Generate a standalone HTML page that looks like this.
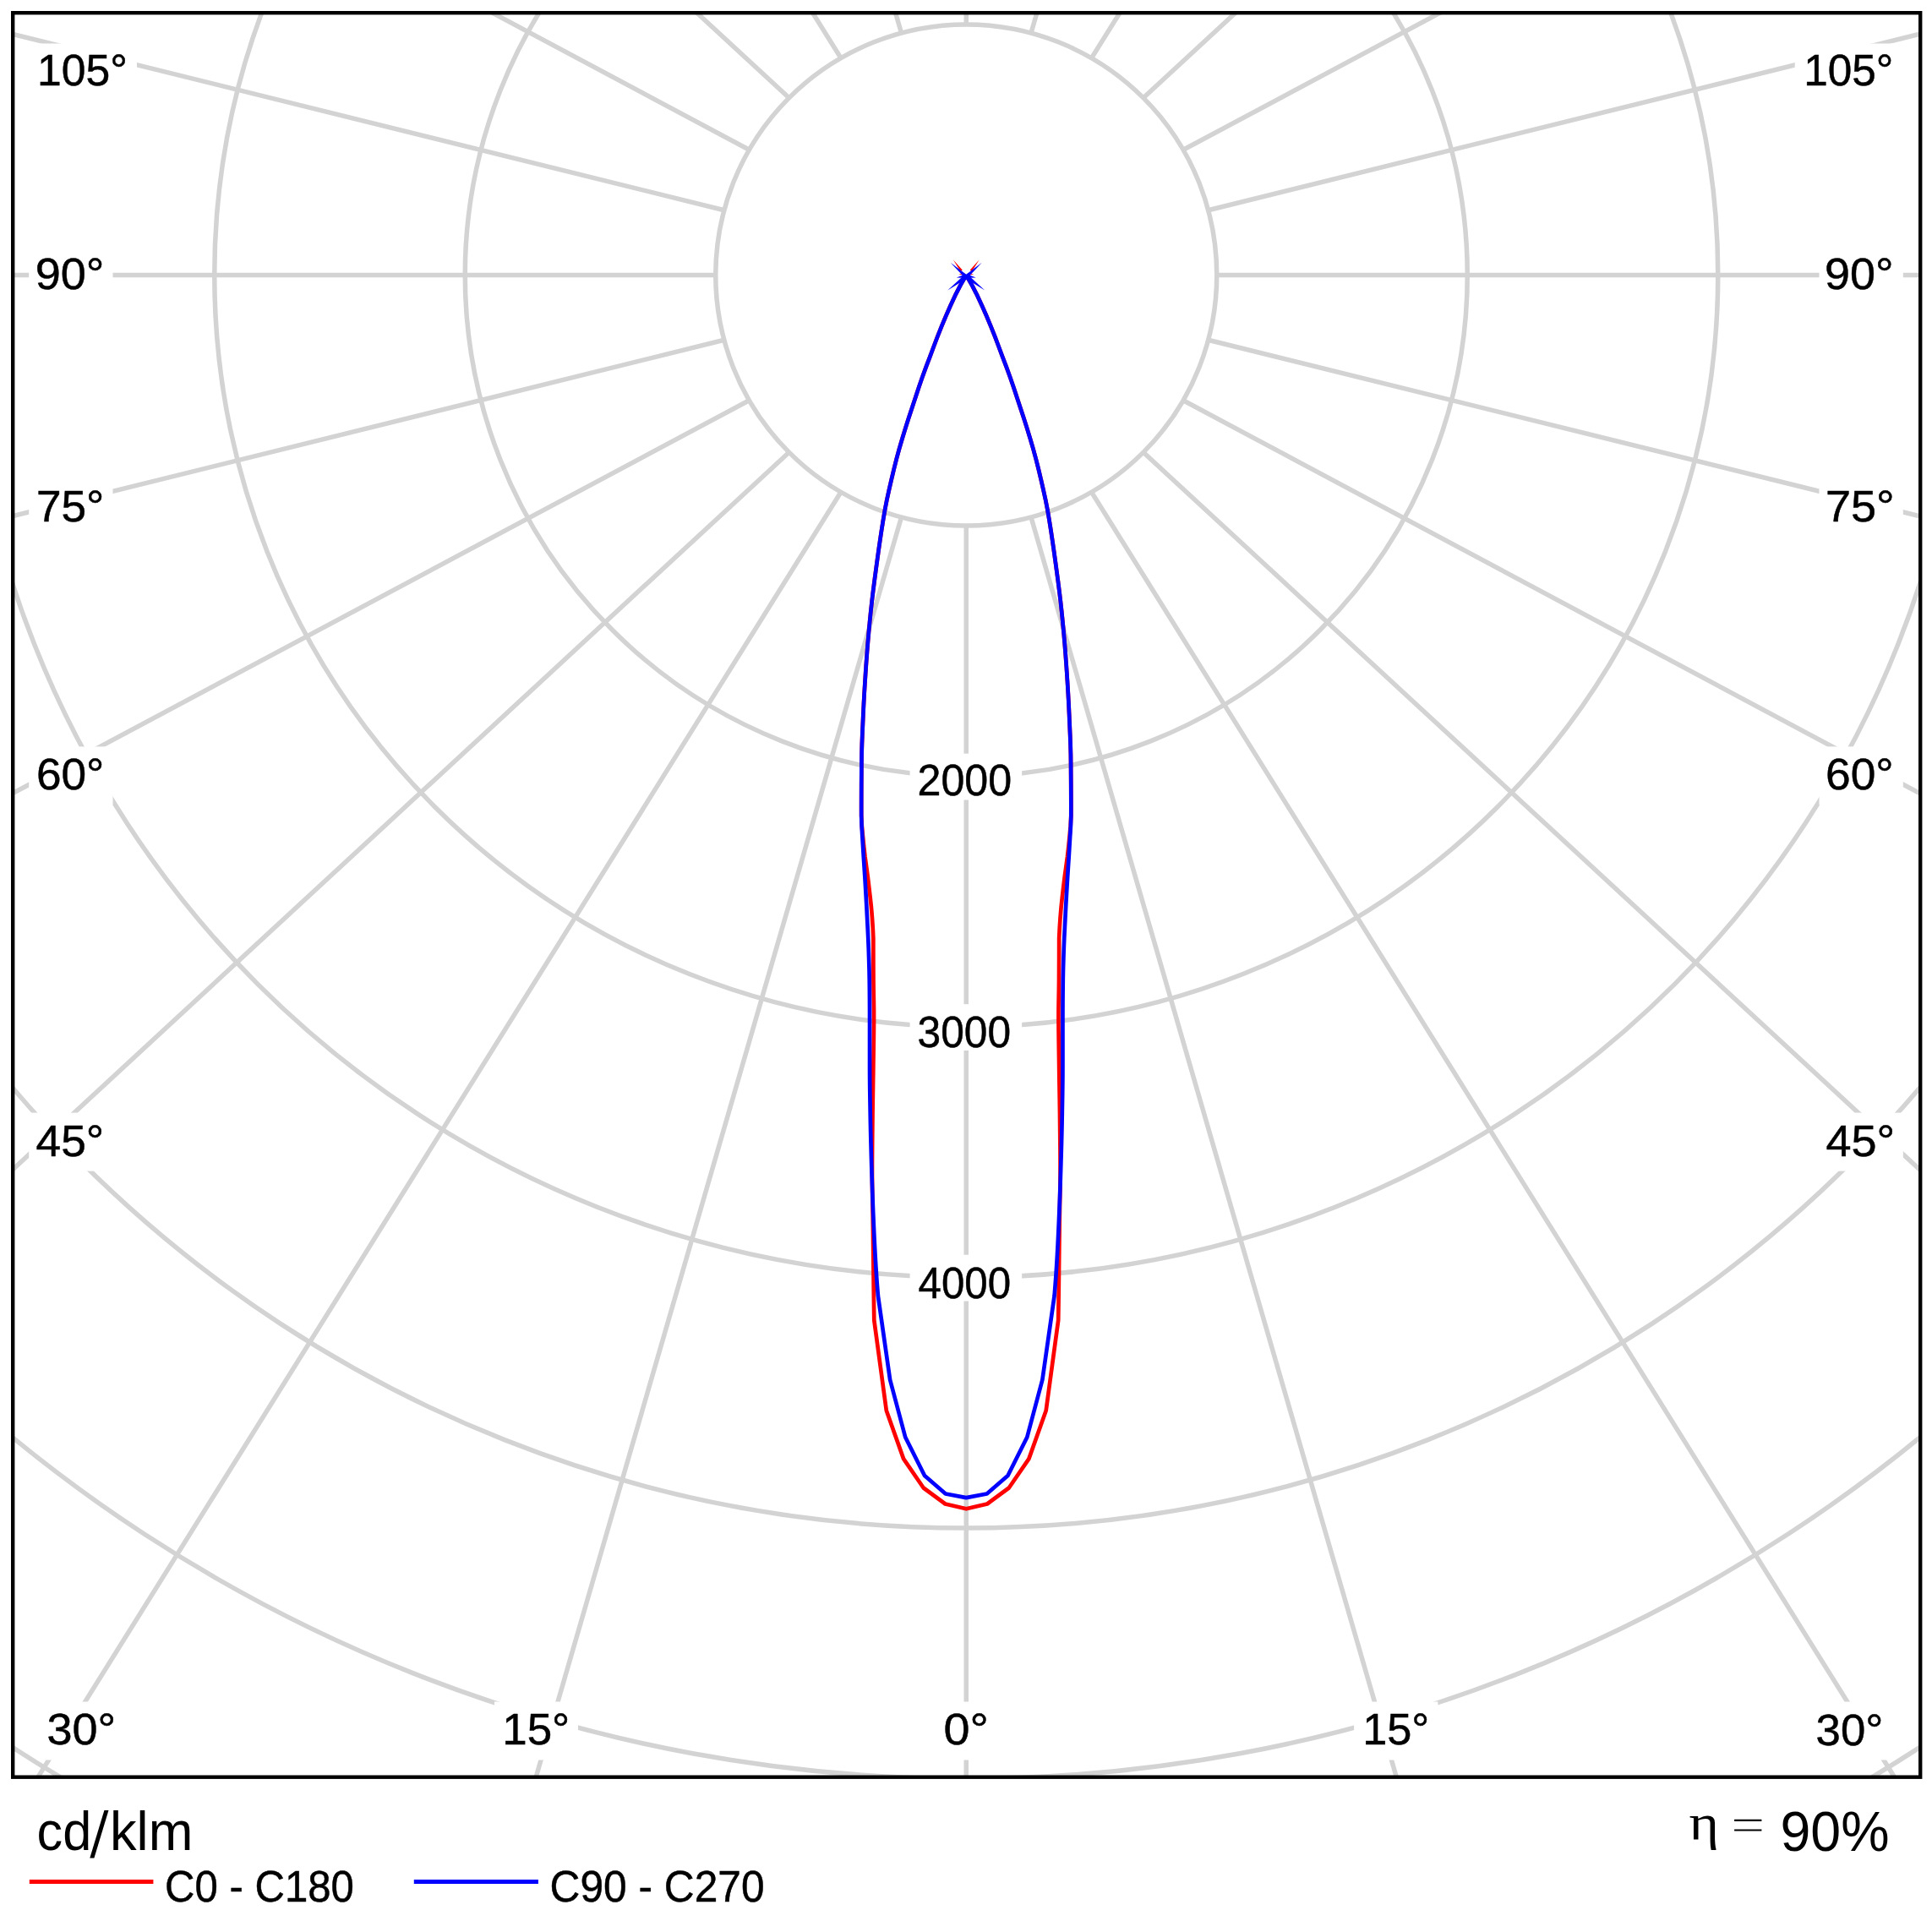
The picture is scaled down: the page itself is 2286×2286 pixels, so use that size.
<!DOCTYPE html>
<html><head><meta charset="utf-8"><title>Polar</title>
<style>html,body{margin:0;padding:0;background:#fff;overflow:hidden;width:2286px;height:2286px}svg{display:block}text{font-family:"Liberation Sans",sans-serif;fill:#000;stroke:#000;stroke-width:0.5px}.s{font-family:"Liberation Serif",serif;stroke:none}.n{stroke:none}</style></head><body>
<svg width="2286" height="2286" viewBox="0 0 2286 2286">
<rect width="2286" height="2286" fill="#fff"/>
<defs><clipPath id="c"><rect x="16.4" y="16.4" width="2254.6" height="2085.1"/></clipPath></defs>
<g clip-path="url(#c)" fill="none" stroke="#d3d3d3" stroke-width="5.5">
<circle cx="1143.25" cy="325.5" r="296.5"/>
<circle cx="1143.25" cy="325.5" r="593"/>
<circle cx="1143.25" cy="325.5" r="889.5"/>
<circle cx="1143.25" cy="325.5" r="1186"/>
<circle cx="1143.25" cy="325.5" r="1482.5"/>
<circle cx="1143.25" cy="325.5" r="1779"/>
<circle cx="1143.25" cy="325.5" r="2075.5"/>
<path d="M1143.25 622L1143.25 3622M1066.51 611.9L290.05 3289.44M1219.99 611.9L1996.45 3289.44M995 582.28L-505 2982.9M1291.5 582.28L2791.5 2982.9M933.59 535.16L-1187.73 2495.26M1352.91 535.16L3474.23 2495.26M886.47 473.75L-1711.6 1859.75M1400.03 473.75L3998.1 1859.75M856.85 402.24L-2040.92 1119.69M1429.65 402.24L4327.42 1119.69M846.75 325.5L-2153.25 325.5M1439.75 325.5L4439.75 325.5M856.85 248.76L-2040.92 -468.69M1429.65 248.76L4327.42 -468.69M886.47 177.25L-1711.6 -1208.75M1400.03 177.25L3998.1 -1208.75M933.59 115.84L-1187.73 -1844.26M1352.91 115.84L3474.23 -1844.26M995 68.72L-505 -2331.9M1291.5 68.72L2791.5 -2331.9M1066.51 39.1L290.05 -2638.44M1219.99 39.1L1996.45 -2638.44M1143.25 29L1143.25 -2971"/>
</g>
<g fill="#fff"><rect x="34.2" y="51.5" width="127.8" height="69"/><rect x="2123.7" y="51.5" width="128.1" height="69"/><rect x="34.2" y="291" width="99.3" height="69"/><rect x="2152.5" y="291" width="99.3" height="69"/><rect x="34.2" y="565.75" width="99.3" height="69"/><rect x="2152.5" y="565.75" width="99.3" height="69"/><rect x="34.2" y="883.4" width="99.3" height="69"/><rect x="2152.5" y="883.4" width="99.3" height="69"/><rect x="34.2" y="1316.6" width="99.3" height="69"/><rect x="2152.5" y="1316.6" width="99.3" height="69"/><rect x="45.6" y="2013.5" width="99.4" height="69"/><rect x="2139" y="2013.5" width="99.3" height="69"/><rect x="585" y="2013.5" width="99" height="69"/><rect x="1602.1" y="2013.5" width="99.3" height="69"/><rect x="1106.2" y="2013.5" width="71.1" height="69"/><rect x="1076.6" y="891.7" width="132.55" height="54.8"/><rect x="1076.6" y="1188.2" width="132.55" height="54.8"/><rect x="1076.6" y="1484.7" width="132.55" height="54.8"/></g>
<text id="L105" x="44.1" y="101" font-size="52.5" textLength="106.83" lengthAdjust="spacingAndGlyphs">105°</text>
<text id="L90" x="41.7" y="342" font-size="52.5" textLength="81.75" lengthAdjust="spacingAndGlyphs">90°</text>
<text id="L75" x="42.9" y="616.8" font-size="52.5" textLength="80.45" lengthAdjust="spacingAndGlyphs">75°</text>
<text id="L60" x="42.9" y="934.4" font-size="52.5" textLength="80.45" lengthAdjust="spacingAndGlyphs">60°</text>
<text id="L45" x="42.5" y="1367.7" font-size="52.5" textLength="80.62" lengthAdjust="spacingAndGlyphs">45°</text>
<text id="L30" x="55.4" y="2063.9" font-size="52.5" textLength="81.73" lengthAdjust="spacingAndGlyphs">30°</text>
<text id="L15" x="594.3" y="2063.9" font-size="52.5" textLength="79.99" lengthAdjust="spacingAndGlyphs">15°</text>
<text id="Z0" x="1116.4" y="2063.9" font-size="52.5" textLength="53.35" lengthAdjust="spacingAndGlyphs">0°</text>
<text id="R15" x="1612.2" y="2063.9" font-size="52.5" textLength="79.09" lengthAdjust="spacingAndGlyphs">15°</text>
<text id="R30" x="2148.6" y="2064.9" font-size="52.5" textLength="79.8" lengthAdjust="spacingAndGlyphs">30°</text>
<text id="R45" x="2160.4" y="1367.7" font-size="52.5" textLength="81.71" lengthAdjust="spacingAndGlyphs">45°</text>
<text id="R60" x="2160" y="934.4" font-size="52.5" textLength="80.63" lengthAdjust="spacingAndGlyphs">60°</text>
<text id="R75" x="2159.9" y="616.8" font-size="52.5" textLength="81.75" lengthAdjust="spacingAndGlyphs">75°</text>
<text id="R90" x="2159" y="342" font-size="52.5" textLength="81.51" lengthAdjust="spacingAndGlyphs">90°</text>
<text id="R105" x="2134.2" y="101" font-size="52.5" textLength="106.15" lengthAdjust="spacingAndGlyphs">105°</text>
<text id="N2" x="1085.5" y="941" font-size="52.5" textLength="111.64" lengthAdjust="spacingAndGlyphs">2000</text>
<text id="N3" x="1085.5" y="1239.1" font-size="52.5" textLength="110.58" lengthAdjust="spacingAndGlyphs">3000</text>
<text id="N4" x="1086.5" y="1535.6" font-size="52.5" textLength="109.63" lengthAdjust="spacingAndGlyphs">4000</text>
<text id="CD" x="43.5" y="2188.6" font-size="65" textLength="64.8" lengthAdjust="spacingAndGlyphs" class="n">cd</text>
<text id="KLM" x="130" y="2188.6" font-size="65" textLength="98.3" lengthAdjust="spacingAndGlyphs" class="n">klm</text>
<path d="M123.4 2142.1H128.5L111.4 2198.5H106.3Z" fill="#000"/>
<text id="LG1" x="195" y="2250.2" font-size="52.5" textLength="223.85" lengthAdjust="spacingAndGlyphs">C0 - C180</text>
<text id="LG2" x="650.5" y="2250.2" font-size="52.5" textLength="254.1" lengthAdjust="spacingAndGlyphs">C90 - C270</text>
<text id="ETA" x="1998.4" y="2175.65" font-size="59.5" textLength="35.52" lengthAdjust="spacingAndGlyphs" class="s">η</text>
<path d="M2052.1 2152.8H2084.4V2155.0H2052.1ZM2052.1 2164.4H2084.4V2166.6H2052.1Z" fill="#000"/>
<text id="PCT" x="2106.5" y="2190" font-size="67.5" textLength="129.09" lengthAdjust="spacingAndGlyphs" class="n">90%</text>
<path d="M34.8 2226.5H181.4" stroke="#f00" stroke-width="5.2" fill="none"/>
<path d="M489.8 2226.5H636.9" stroke="#00f" stroke-width="5.2" fill="none"/>
<g fill="none" stroke-width="4.7" stroke-linejoin="round" stroke-linecap="butt">
<path d="M1143.25 325.5L1150.15 337.57L1156.34 349.64L1161.93 361.71L1167.22 373.78L1172.27 385.85L1177.09 397.92L1181.64 409.98L1186.15 422.05L1190.74 434.12L1195.16 446.19L1199.3 458.26L1203.31 470.33L1207.31 482.4L1211.28 494.47L1215.12 506.54L1218.83 518.61L1222.38 530.68L1225.67 542.75L1228.72 554.82L1231.6 566.88L1234.39 578.95L1237.05 591.02L1239.42 603.09L1241.47 615.16L1243.39 627.23L1245.21 639.3L1246.96 651.37L1248.63 663.44L1250.27 675.51L1251.89 687.58L1253.43 699.65L1254.89 711.72L1256.21 723.78L1257.42 735.85L1258.55 747.92L1259.62 759.99L1260.6 772.06L1261.5 784.13L1262.32 796.2L1263.1 808.27L1263.83 820.34L1264.49 832.41L1265.08 844.48L1265.61 856.55L1266.14 868.62L1266.61 880.68L1266.94 892.75L1267.09 904.82L1267.18 916.89L1267.26 928.96L1267.31 941.03L1267.34 953.1L1267.32 965.17L1266.7 977.24L1265.58 989.31L1264.35 1001.38L1262.98 1013.45L1261.33 1025.52L1259.69 1037.58L1258.24 1049.65L1256.83 1061.72L1255.55 1073.79L1254.53 1085.86L1253.74 1097.93L1253.15 1110L1253.14 1122.22L1253.11 1134.44L1253.06 1146.66L1253.01 1158.88L1252.87 1171.09L1252.64 1183.31L1252.47 1195.53L1252.47 1207.75L1252.57 1219.97L1252.72 1232.19L1252.9 1244.41L1253.08 1256.63L1253.24 1268.85L1253.42 1281.06L1253.62 1293.28L1253.81 1305.5L1253.98 1317.72L1254.11 1329.94L1254.25 1342.16L1254.37 1354.38L1254.48 1366.6L1254.54 1378.82L1254.54 1391.04L1254.43 1403.25L1254.23 1415.47L1254 1427.69L1253.78 1439.91L1253.6 1452.13L1253.46 1464.35L1253.32 1476.57L1253.18 1488.79L1253.04 1501.01L1252.9 1513.22L1252.75 1525.44L1252.58 1537.66L1252.4 1549.88L1252.2 1562.1L1237.7 1669L1217.4 1726.1L1193.8 1760.5L1168.1 1779.5L1143.25 1785.3L1118.4 1779.5L1092.7 1760.5L1069.1 1726.1L1048.8 1669L1034.3 1562.1L1034.1 1549.88L1033.92 1537.66L1033.75 1525.44L1033.6 1513.22L1033.46 1501.01L1033.32 1488.79L1033.18 1476.57L1033.04 1464.35L1032.9 1452.13L1032.72 1439.91L1032.5 1427.69L1032.27 1415.47L1032.07 1403.25L1031.96 1391.04L1031.96 1378.82L1032.02 1366.6L1032.13 1354.38L1032.25 1342.16L1032.39 1329.94L1032.52 1317.72L1032.69 1305.5L1032.88 1293.28L1033.08 1281.06L1033.26 1268.85L1033.42 1256.63L1033.6 1244.41L1033.78 1232.19L1033.93 1219.97L1034.03 1207.75L1034.03 1195.53L1033.86 1183.31L1033.63 1171.09L1033.49 1158.88L1033.44 1146.66L1033.39 1134.44L1033.36 1122.22L1033.35 1110L1032.76 1097.93L1031.97 1085.86L1030.95 1073.79L1029.67 1061.72L1028.26 1049.65L1026.81 1037.58L1025.17 1025.52L1023.52 1013.45L1022.15 1001.38L1020.92 989.31L1019.8 977.24L1019.18 965.17L1019.16 953.1L1019.19 941.03L1019.24 928.96L1019.32 916.89L1019.41 904.82L1019.56 892.75L1019.89 880.68L1020.36 868.62L1020.89 856.55L1021.42 844.48L1022.01 832.41L1022.67 820.34L1023.4 808.27L1024.18 796.2L1025 784.13L1025.9 772.06L1026.88 759.99L1027.95 747.92L1029.08 735.85L1030.29 723.78L1031.61 711.72L1033.07 699.65L1034.61 687.58L1036.23 675.51L1037.87 663.44L1039.54 651.37L1041.29 639.3L1043.11 627.23L1045.03 615.16L1047.08 603.09L1049.45 591.02L1052.11 578.95L1054.9 566.88L1057.78 554.82L1060.83 542.75L1064.12 530.68L1067.67 518.61L1071.38 506.54L1075.22 494.47L1079.19 482.4L1083.19 470.33L1087.2 458.26L1091.34 446.19L1095.76 434.12L1100.35 422.05L1104.86 409.98L1109.41 397.92L1114.23 385.85L1119.28 373.78L1124.57 361.71L1130.16 349.64L1136.35 337.57L1143.25 325.5" stroke="#f00"/>
<path d="M1143.25 325.5L1150.15 337.58L1156.35 349.65L1161.93 361.73L1167.23 373.8L1172.29 385.88L1177.1 397.96L1181.66 410.03L1186.17 422.11L1190.76 434.18L1195.18 446.26L1199.32 458.34L1203.33 470.41L1207.34 482.49L1211.31 494.56L1215.16 506.64L1218.86 518.72L1222.42 530.79L1225.7 542.87L1228.75 554.94L1231.63 567.02L1234.42 579.1L1237.08 591.17L1239.44 603.25L1241.5 615.32L1243.41 627.4L1245.24 639.48L1246.99 651.55L1248.66 663.63L1250.3 675.7L1251.91 687.78L1253.46 699.86L1254.91 711.93L1256.23 724.01L1257.44 736.08L1258.58 748.16L1259.64 760.24L1260.62 772.31L1261.52 784.39L1262.34 796.46L1263.12 808.54L1263.84 820.62L1264.5 832.69L1265.09 844.77L1265.62 856.84L1266.16 868.92L1266.62 881L1266.95 893.07L1267.09 905.15L1267.18 917.22L1267.26 929.3L1267.31 941.38L1267.34 953.45L1267.32 965.53L1266.9 977.6L1266.17 989.68L1265.43 1001.76L1264.71 1013.83L1263.92 1025.91L1263.14 1037.98L1262.42 1050.06L1261.73 1062.14L1261.07 1074.21L1260.44 1086.29L1259.83 1098.36L1259.25 1110.44L1258.76 1122.52L1258.36 1134.59L1258.01 1146.67L1257.77 1158.74L1257.63 1170.82L1257.52 1182.9L1257.46 1194.97L1257.45 1207.05L1257.45 1219.12L1257.45 1231.2L1257.45 1243.28L1257.45 1255.35L1257.44 1267.43L1257.36 1279.5L1257.21 1291.58L1257.01 1303.66L1256.8 1315.73L1256.59 1327.81L1256.33 1339.88L1256.04 1351.96L1255.71 1364.04L1255.36 1376.11L1254.99 1388.19L1254.6 1400.26L1254.19 1412.34L1253.74 1424.42L1253.25 1436.49L1252.74 1448.57L1252.19 1460.64L1251.6 1472.72L1250.95 1484.8L1250.24 1496.87L1249.46 1508.95L1248.57 1521.02L1247.6 1533.1L1233.4 1632.5L1215.3 1700.5L1192.5 1746L1167.7 1767.5L1143.25 1772.1L1118.8 1767.5L1094 1746L1071.2 1700.5L1053.1 1632.5L1038.9 1533.1L1037.93 1521.02L1037.04 1508.95L1036.26 1496.87L1035.55 1484.8L1034.9 1472.72L1034.31 1460.64L1033.76 1448.57L1033.25 1436.49L1032.76 1424.42L1032.31 1412.34L1031.9 1400.26L1031.51 1388.19L1031.14 1376.11L1030.79 1364.04L1030.46 1351.96L1030.17 1339.88L1029.91 1327.81L1029.7 1315.73L1029.49 1303.66L1029.29 1291.58L1029.14 1279.5L1029.06 1267.43L1029.05 1255.35L1029.05 1243.28L1029.05 1231.2L1029.05 1219.12L1029.05 1207.05L1029.04 1194.97L1028.98 1182.9L1028.87 1170.82L1028.73 1158.74L1028.49 1146.67L1028.14 1134.59L1027.74 1122.52L1027.25 1110.44L1026.67 1098.36L1026.06 1086.29L1025.43 1074.21L1024.77 1062.14L1024.08 1050.06L1023.36 1037.98L1022.58 1025.91L1021.79 1013.83L1021.07 1001.76L1020.33 989.68L1019.6 977.6L1019.18 965.53L1019.16 953.45L1019.19 941.38L1019.24 929.3L1019.32 917.22L1019.41 905.15L1019.55 893.07L1019.88 881L1020.34 868.92L1020.88 856.84L1021.41 844.77L1022 832.69L1022.66 820.62L1023.38 808.54L1024.16 796.46L1024.98 784.39L1025.88 772.31L1026.86 760.24L1027.92 748.16L1029.06 736.08L1030.27 724.01L1031.59 711.93L1033.04 699.86L1034.59 687.78L1036.2 675.7L1037.84 663.63L1039.51 651.55L1041.26 639.48L1043.09 627.4L1045 615.32L1047.06 603.25L1049.42 591.17L1052.08 579.1L1054.87 567.02L1057.75 554.94L1060.8 542.87L1064.08 530.79L1067.64 518.72L1071.34 506.64L1075.19 494.56L1079.16 482.49L1083.17 470.41L1087.18 458.34L1091.32 446.26L1095.74 434.18L1100.33 422.11L1104.84 410.03L1109.4 397.96L1114.21 385.88L1119.27 373.8L1124.57 361.73L1130.15 349.65L1136.35 337.58L1143.25 325.5" stroke="#00f"/>
</g>
<path d="M1127.75 307.2L1138.77 319.56L1136.53 321.24Z" fill="#f00"/>
<path d="M1134.25 324.3L1141.34 323.55L1141.16 326.05Z" fill="#f00"/>
<path d="M1158.75 307.2L1149.97 321.24L1147.73 319.56Z" fill="#f00"/>
<path d="M1152.25 324.3L1145.34 326.05L1145.16 323.55Z" fill="#f00"/>
<path d="M1124.75 310.7L1143.66 324.94L1140.84 328.06Z" fill="#00f"/>
<path d="M1121.25 343.4L1138.37 327.66L1141.13 331.34Z" fill="#00f"/>
<path d="M1131.75 328.5L1139.95 325.28L1140.55 328.72Z" fill="#00f"/>
<path d="M1161.75 310.7L1145.66 328.06L1142.84 324.94Z" fill="#00f"/>
<path d="M1165.25 343.4L1145.37 331.34L1148.13 327.66Z" fill="#00f"/>
<path d="M1154.75 328.5L1145.95 328.72L1146.55 325.28Z" fill="#00f"/>
<rect x="15.2" y="15.2" width="2257" height="2087.5" fill="none" stroke="#000" stroke-width="4.4"/>
</svg></body></html>
